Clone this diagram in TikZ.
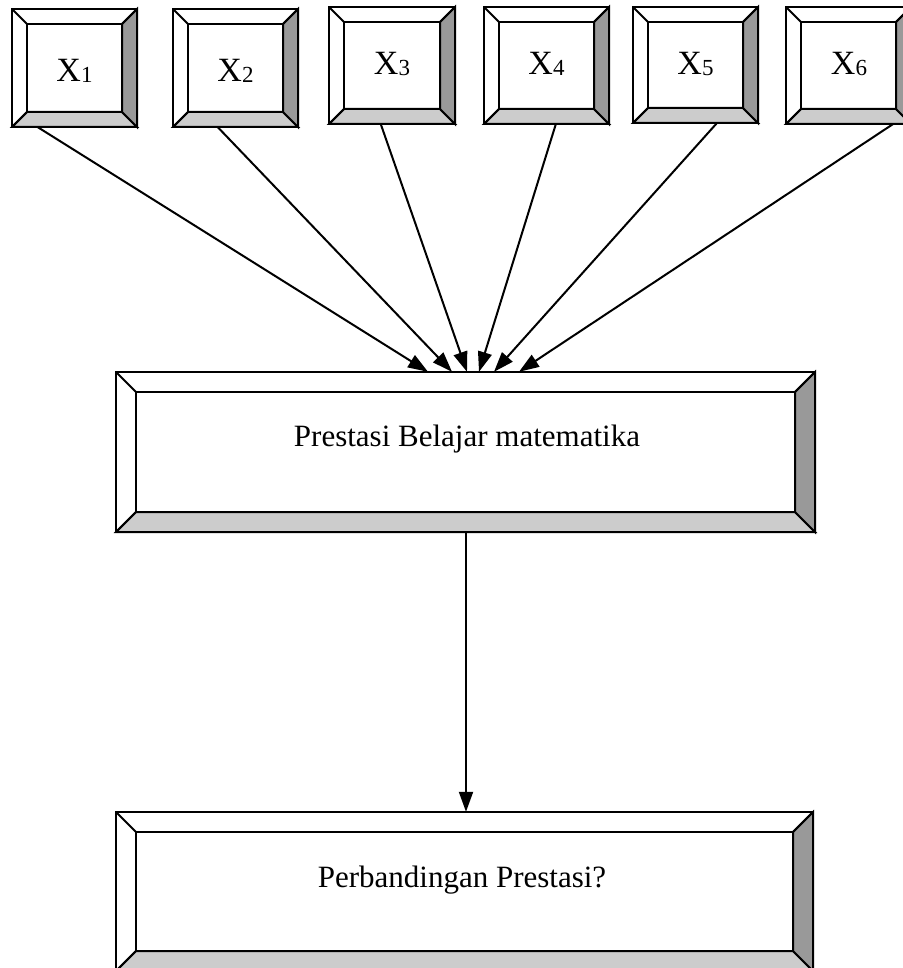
\documentclass[tikz,border=0pt]{standalone}
\usepackage{fontspec}
\setmainfont{Liberation Serif}
\usetikzlibrary{arrows.meta,fit}
\definecolor{bevdark}{HTML}{999999}
\definecolor{bevlight}{HTML}{CCCCCC}
\newcommand{\bevbox}[6]{%
  \fill[white] (#2,#3) rectangle (#4,#5);
  \filldraw[bevline,fill=bevlight] (#2,#5) -- (#4,#5) -- ({#4-#6},{#5-#6}) -- ({#2+#6},{#5-#6}) -- cycle;
  \filldraw[bevline,fill=bevdark] (#4,#3) -- (#4,#5) -- ({#4-#6},{#5-#6}) -- ({#4-#6},{#3+#6}) -- cycle;
  \draw[bevline] (#2,#3) rectangle (#4,#5);
  \draw[bevline] ({#2+#6},{#3+#6}) rectangle ({#4-#6},{#5-#6});
  \draw[bevline] (#2,#3) -- ({#2+#6},{#3+#6});
  \draw[bevline] (#4,#3) -- ({#4-#6},{#3+#6});
  \draw[bevline] (#2,#5) -- ({#2+#6},{#5-#6});
  \node[inner sep=0pt, fit={(#2,#3) (#4,#5)}] (#1) {};
}
\tikzset{
  bevline/.style={line width=2pt, line join=miter},
  arr/.style={line width=2pt, -{Triangle[length=20pt,width=14pt]}},
  xlab/.style={anchor=base, inner sep=0pt, font=\fontsize{34}{34}\selectfont},
  boxtext/.style={anchor=base, inner sep=0pt, font=\fontsize{31}{36}\selectfont}
}
\newcommand{\xsub}[1]{X\raisebox{-1pt}{\fontsize{23}{23}\selectfont #1}}
\begin{document}
\begin{tikzpicture}[x=1pt,y=-1pt]
\useasboundingbox[fill=white] (0,0) rectangle (902,968);
% top boxes
\bevbox{x1}{12}{9}{137}{127}{15}
\bevbox{x2}{173}{9}{298}{127}{15}
\bevbox{x3}{329}{7}{455}{124}{15}
\bevbox{x4}{484}{7}{609}{124}{15}
\bevbox{x5}{633}{7}{758}{123}{15}
\bevbox{x6}{786}{7}{911}{124}{15}
\node[xlab] (l1) at (74.5,82) {\xsub{1}};
\node[xlab] (l2) at (235.5,82) {\xsub{2}};
\node[xlab] (l3) at (392,75) {\xsub{3}};
\node[xlab] (l4) at (546.5,75) {\xsub{4}};
\node[xlab] (l5) at (695.5,75) {\xsub{5}};
\node[xlab] (l6) at (849,75) {\xsub{6}};
% main boxes
\bevbox{main}{116}{372}{815}{532}{20}
\bevbox{bot}{116}{812}{813}{971}{20}
\node[boxtext] (t1) at (467,446) {Prestasi Belajar matematika};
\node[boxtext] (t2) at (462,887) {Perbandingan Prestasi?};
% arrows
\draw[arr] ([xshift=26pt]x1.south west) -- ([xshift=-37.5pt]main.north);
\draw[arr] ([xshift=45pt]x2.south west) -- ([xshift=-13.5pt]main.north);
\draw[arr] ([xshift=52pt]x3.south west) -- ([xshift=1.5pt]main.north);
\draw[arr] ([xshift=72pt]x4.south west) -- ([xshift=13.5pt]main.north);
\draw[arr] ([xshift=84pt]x5.south west) -- ([xshift=28.5pt]main.north);
\draw[arr] ([xshift=107pt]x6.south west) -- ([xshift=53.5pt]main.north);
\draw[arr] ([xshift=0.5pt]main.south) -- ([xshift=0.5pt]main.south |- bot.north);
\end{tikzpicture}
\end{document}
